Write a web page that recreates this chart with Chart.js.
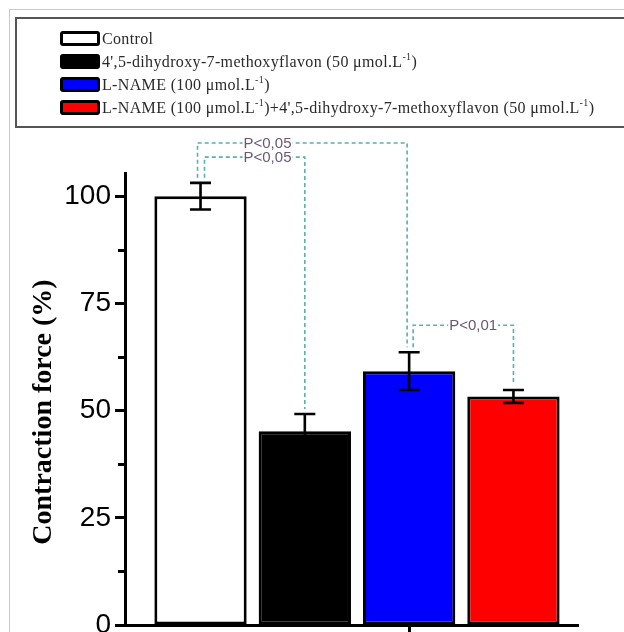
<!DOCTYPE html>
<html>
<head>
<meta charset="utf-8">
<script src="https://cdn.jsdelivr.net/npm/chart.js@4.4.0/dist/chart.umd.min.js"></script>
<style>
  body { margin: 0; background: #fff; width: 624px; height: 632px; overflow: hidden; position: relative; }
  #frame { position: absolute; left: 9px; top: 9px; width: 700px; height: 700px; border-left: 1px solid #c8c8c8; border-top: 1px solid #c8c8c8; }
  #legend { position: absolute; left: 15px; top: 17px; width: 700px; height: 111px; box-sizing: border-box;
            border: 2px solid #555; padding-top: 8px; z-index: 2; }
  .item { height: 23px; display: flex; align-items: center; font-family: "Liberation Serif", "Times New Roman", serif;
          font-size: 16px; letter-spacing: 0.35px; color: #2a2a2a; white-space: nowrap; }
  .swatch { width: 40px; height: 15px; box-sizing: border-box; border: 3px solid #000; border-radius: 3px; margin-left: 43px; margin-right: 2px; }
  .item sup { font-size: 10px; vertical-align: 7px; line-height: 0; }
  #wrap { position: absolute; left: 0; top: 0; width: 624px; height: 632px; z-index: 1; }
</style>
</head>
<body>
<div id="frame"></div>
<div id="legend"></div>
<div id="wrap"><canvas id="chart"></canvas></div>
<script>
// groups, in legend order
const groups = [
  'Control',
  "4',5-dihydroxy-7-methoxyflavon (50 μmol.L-1)",
  'L-NAME (100 μmol.L-1)',
  "L-NAME (100 μmol.L-1)+4',5-dihydroxy-7-methoxyflavon (50 μmol.L-1)"
];
const means = [100, 45.2, 59.2, 53.3];
const errors = [3.1, 4.0, 4.4, 1.5];
const barColors = ['#ffffff', '#000000', '#0000ff', '#ff0000'];

// significance brackets: from group, to group, height (% on y axis), text
const bracketFrom = [0, 0, 2];
const bracketTo = [2, 1, 3];
const bracketLevel = [112.4, 109.1, 69.9];
const bracketText = ['P<0,05', 'P<0,05', 'P<0,01'];

const yTicks = [0, 25, 50, 75, 100];
const yMinorTicks = [12.5, 37.5, 62.5, 87.5];
const yTitle = 'Contraction force (%)';

// small horizontal shifts of bracket legs / labels so they don't sit on each other
const legShiftLeft = [-3, 4, 4];
const legShiftRight = [-2, 0, 0];
const labelShift = [46, 39, 36];
const teal = 'rgb(88,176,176)';

const extras = {
  id: 'extras',
  afterDatasetsDraw(chart) {
    const ctx = chart.ctx;
    const x = chart.scales.x, y = chart.scales.y;
    // error bars
    ctx.save();
    ctx.strokeStyle = '#000';
    ctx.lineWidth = 2.6;
    means.forEach((m, i) => {
      const px = x.getPixelForValue(i + 1);
      const top = y.getPixelForValue(m + errors[i]);
      const bot = y.getPixelForValue(m - errors[i]);
      ctx.beginPath();
      ctx.moveTo(px, top); ctx.lineTo(px, bot);
      ctx.moveTo(px - 10.5, top); ctx.lineTo(px + 10.5, top);
      ctx.moveTo(px - 10.5, bot); ctx.lineTo(px + 10.5, bot);
      ctx.stroke();
    });
    ctx.restore();
  },
  afterDraw(chart) {
    const ctx = chart.ctx;
    const x = chart.scales.x, y = chart.scales.y;
    // minor ticks on y axis
    ctx.save();
    ctx.strokeStyle = '#000';
    ctx.lineWidth = 3;
    yMinorTicks.forEach(v => {
      const py = Math.round(y.getPixelForValue(v)) + 0.5;
      ctx.beginPath();
      ctx.moveTo(x.left - 7, py); ctx.lineTo(x.left + 1, py);
      ctx.stroke();
    });
    ctx.restore();

    // brackets
    ctx.save();
    ctx.strokeStyle = teal;
    ctx.lineWidth = 1.6;
    ctx.setLineDash([4, 3]);
    ctx.font = '15px "Liberation Sans", Arial, sans-serif';
    ctx.textBaseline = 'middle';
    bracketFrom.forEach((a, k) => {
      const b = bracketTo[k];
      const xl = x.getPixelForValue(a + 1) + legShiftLeft[k];
      const xr = x.getPixelForValue(b + 1) + legShiftRight[k];
      const yl = y.getPixelForValue(means[a] + errors[a]) - 5;
      const yr = y.getPixelForValue(means[b] + errors[b]) - 5;
      const yy = y.getPixelForValue(bracketLevel[k]);
      ctx.beginPath();
      ctx.moveTo(xl, yl); ctx.lineTo(xl, yy); ctx.lineTo(xr, yy); ctx.lineTo(xr, yr);
      ctx.stroke();
      const tw = ctx.measureText(bracketText[k]).width;
      const tx = xl + labelShift[k];
      ctx.fillStyle = '#fff';
      ctx.fillRect(tx - 1, yy - 6, tw + 2, 12);
      ctx.fillStyle = '#6a5676';
      ctx.fillText(bracketText[k], tx, yy + 1);
    });
    ctx.restore();

    // y axis title
    ctx.save();
    ctx.translate(44, 412);
    ctx.rotate(-Math.PI / 2);
    ctx.font = 'bold 28px "Liberation Serif", "Times New Roman", serif';
    ctx.fillStyle = '#000';
    ctx.textAlign = 'center';
    ctx.textBaseline = 'middle';
    ctx.fillText(yTitle, 0, 0);
    ctx.restore();
  }
};

const chart = new Chart(document.getElementById('chart').getContext('2d'), {
  type: 'bar',
  data: {
    datasets: groups.map((g, i) => ({
      label: g,
      data: [{ x: i + 1, y: means[i] }],
      backgroundColor: barColors[i],
      borderColor: '#000',
      borderWidth: 3,
      borderSkipped: false
    }))
  },
  options: {
    responsive: true,
    maintainAspectRatio: false,
    animation: false,
    layout: { padding: { top: 173, right: 46, bottom: 0, left: 0 } },
    datasets: { bar: { grouped: false, categoryPercentage: 1, barPercentage: 0.885 } },
    plugins: { legend: { display: false }, tooltip: { enabled: false } },
    scales: {
      x: {
        type: 'linear',
        offset: false,
        min: 0.276,
        max: 4.619,
        border: { color: '#000', width: 3 },
        grid: { offset: false, drawOnChartArea: false, tickLength: 7, tickWidth: 3, tickColor: '#000' },
        ticks: { display: false },
        afterBuildTicks(s) { s.ticks = [{ value: 3 }]; },
        afterFit(s) { s.height = 7; s.paddingLeft = 0; s.paddingRight = 0; }
      },
      y: {
        min: 0,
        max: 105.4,
        border: { color: '#000', width: 3 },
        grid: { drawOnChartArea: false, tickLength: 10, tickWidth: 3, tickColor: '#000' },
        ticks: {
          stepSize: 25,
          includeBounds: false,
          padding: 4,
          color: '#000',
          font: { family: '"Liberation Sans", Arial, sans-serif', size: 28 }
        },
        afterBuildTicks(s) { s.ticks = yTicks.map(v => ({ value: v })); },
        afterFit(s) { s.width = 125; s.paddingTop = 0; s.paddingBottom = 0; }
      }
    }
  },
  plugins: [extras]
});

// html legend built from the chart datasets
const legendEl = document.getElementById('legend');
chart.data.datasets.forEach(ds => {
  const row = document.createElement('div');
  row.className = 'item';
  const sw = document.createElement('span');
  sw.className = 'swatch';
  sw.style.background = ds.backgroundColor;
  const txt = document.createElement('span');
  txt.innerHTML = ds.label.replace(/L-1/g, 'L<sup>-1</sup>');
  row.appendChild(sw);
  row.appendChild(txt);
  legendEl.appendChild(row);
});
</script>
</body>
</html>
